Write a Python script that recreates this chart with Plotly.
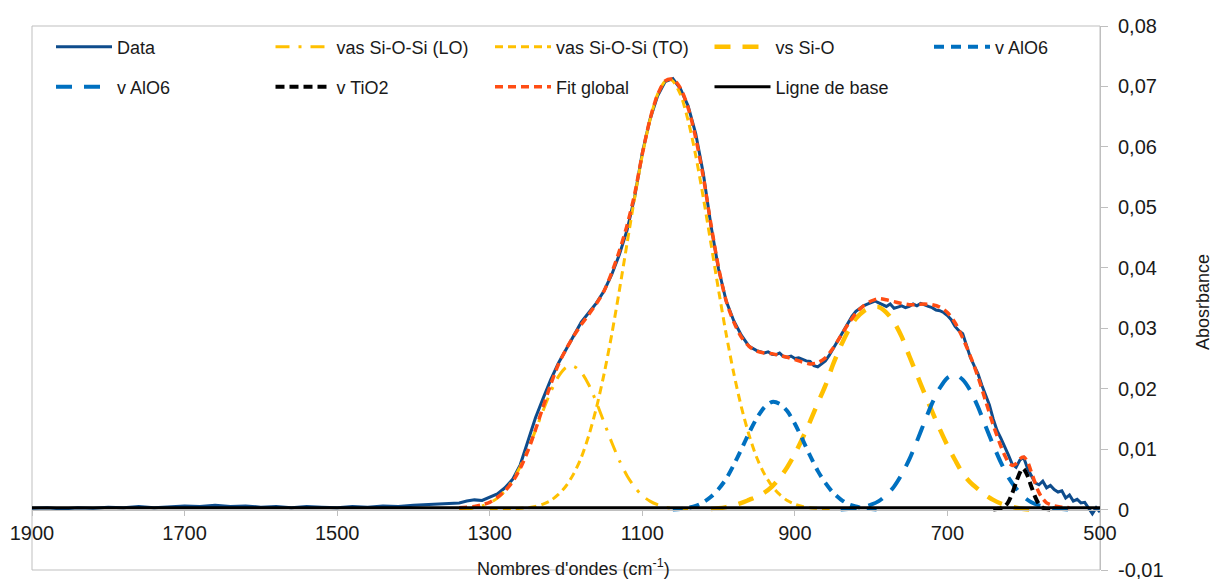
import plotly.graph_objects as go

# ---------------- data ----------------
DATA_WN = [1900, 1880, 1860, 1840, 1820, 1800, 1780, 1760, 1740, 1720, 1700, 1680, 1660, 1640,
           1620, 1600, 1580, 1560, 1540, 1520, 1500, 1480, 1460, 1440, 1420, 1400, 1380, 1360,
           1340, 1330, 1320, 1310, 1300, 1290, 1280, 1270, 1260, 1250, 1240, 1230, 1220, 1210,
           1200, 1190, 1180, 1170, 1160, 1150, 1140, 1130, 1120, 1110, 1100, 1090, 1080, 1070,
           1060, 1050, 1040, 1030, 1020, 1010, 1000, 990, 980, 970, 960, 950, 940, 935, 930,
           925, 920, 915, 910, 905, 900, 895, 890, 885, 880, 875, 870, 865, 860, 855, 850, 845,
           840, 835, 830, 825, 820, 815, 810, 805, 800, 795, 790, 785, 780, 775, 770, 765, 760,
           755, 750, 745, 740, 735, 730, 725, 720, 715, 710, 705, 700, 695, 690, 685, 680, 675,
           670, 665, 660, 655, 650, 645, 640, 635, 630, 625, 620, 615, 610, 605, 600, 595, 590,
           585, 580, 575, 570, 565, 560, 555, 550, 545, 540, 535, 530, 525, 520, 515, 510, 505, 500]
DATA_ABS = [0.0002, 0.0003, 0.0001, 0.0003, 0.0002, 0.0004, 0.0003, 0.0005, 0.0003, 0.0004, 0.0006, 0.0005, 0.0007, 0.0005,
            0.0006, 0.0004, 0.0005, 0.0003, 0.0005, 0.0004, 0.0003, 0.0005, 0.0004, 0.0006, 0.0005, 0.0007, 0.0008, 0.0009,
            0.0011, 0.0014, 0.0016, 0.0015, 0.0020, 0.0026, 0.0036, 0.0050, 0.0074, 0.0112, 0.0152, 0.0184, 0.0215, 0.0242,
            0.0265, 0.0288, 0.0310, 0.0326, 0.0342, 0.0362, 0.0389, 0.0422, 0.0462, 0.0517, 0.0590, 0.0645, 0.0684, 0.0708,
            0.0713, 0.0696, 0.0668, 0.0622, 0.0556, 0.0470, 0.0398, 0.0345, 0.0312, 0.0288, 0.0270, 0.0263, 0.0259, 0.0261, 0.0257,
            0.0256, 0.0259, 0.0253, 0.0252, 0.0254, 0.0250, 0.0251, 0.0248, 0.0246, 0.0245, 0.0238, 0.0236, 0.0241, 0.0246, 0.0255, 0.0266, 0.0277,
            0.0289, 0.0300, 0.0311, 0.0320, 0.0328, 0.0333, 0.0337, 0.0340, 0.0343, 0.0345, 0.0342, 0.0339, 0.0336, 0.0340, 0.0333, 0.0335, 0.0337,
            0.0334, 0.0336, 0.0340, 0.0337, 0.0341, 0.0338, 0.0336, 0.0334, 0.0330, 0.0329, 0.0326, 0.0321, 0.0314, 0.0303, 0.0296, 0.0291, 0.0270,
            0.0252, 0.0238, 0.0225, 0.0206, 0.0190, 0.0173, 0.0150, 0.0131, 0.0118, 0.0105, 0.0090, 0.0075, 0.0070, 0.0082, 0.0086, 0.0068, 0.0055,
            0.0044, 0.0041, 0.0047, 0.0036, 0.0040, 0.0033, 0.0029, 0.0031, 0.0019, 0.0024, 0.0014, 0.0017, 0.0011, 0.0012, 0.0003, -0.0007, 0.0003, -0.0004]

LO_WN = [1340, 1330, 1320, 1310, 1300, 1290, 1280, 1270, 1260, 1250, 1240, 1230, 1220, 1210, 1200, 1190,
         1180, 1170, 1160, 1150, 1140, 1130, 1120, 1110, 1100, 1090, 1080, 1070, 1060, 1050, 1040]
LO_ABS = [0.0001, 0.0001, 0.0003, 0.0006, 0.0011, 0.0019, 0.0031, 0.0048, 0.0071, 0.0099, 0.0131, 0.0164, 0.0195, 0.0220, 0.0235, 0.0237,
          0.0227, 0.0206, 0.0177, 0.0144, 0.0111, 0.0081, 0.0056, 0.0037, 0.0023, 0.0014, 0.0008, 0.0004, 0.0002, 0.0001, 0.0]

TO_WN = [1300, 1290, 1280, 1270, 1260, 1250, 1240, 1230, 1220, 1210, 1200, 1190, 1180, 1170, 1160, 1150, 1140, 1130,
         1120, 1110, 1100, 1090, 1080, 1070, 1065, 1060, 1050, 1040, 1030, 1020, 1010, 1000, 990, 980, 970, 960, 950,
         940, 930, 920, 910, 900, 890, 880, 870, 860, 850]
TO_ABS = [0.0, 0.0, 0.0001, 0.0001, 0.0002, 0.0003, 0.0005, 0.0009, 0.0015, 0.0025, 0.0039, 0.0059, 0.0086, 0.0123, 0.0169, 0.0225, 0.0290, 0.0363,
          0.0440, 0.0516, 0.0586, 0.0644, 0.0687, 0.0709, 0.0712, 0.0709, 0.0687, 0.0644, 0.0586, 0.0516, 0.0440, 0.0363, 0.0290, 0.0225, 0.0169, 0.0123, 0.0086,
          0.0059, 0.0039, 0.0025, 0.0015, 0.0009, 0.0005, 0.0003, 0.0002, 0.0001, 0.0]

SIO_WN = [1010, 1000, 990, 980, 970, 960, 950, 940, 930, 920, 910, 900, 890, 880, 870, 860, 850, 840, 830, 820, 810,
          800, 790, 780, 770, 760, 750, 740, 730, 720, 710, 700, 690, 680, 670, 660, 650, 640, 630, 620, 610, 600, 590]
SIO_ABS = [0.0001, 0.0002, 0.0004, 0.0007, 0.0011, 0.0016, 0.0021, 0.0028, 0.0038, 0.0052, 0.0070, 0.0092, 0.0118, 0.0146, 0.0176, 0.0205, 0.0240, 0.0270, 0.0296, 0.0316, 0.0328,
           0.0334, 0.0335, 0.0326, 0.0310, 0.0286, 0.0254, 0.0223, 0.0192, 0.0162, 0.0133, 0.0106, 0.0082, 0.0060, 0.0045, 0.0034, 0.0024, 0.0016, 0.0010, 0.0006, 0.0003, 0.0001, 0.0]

AL1_WN = [1060, 1050, 1040, 1030, 1020, 1010, 1000, 990, 980, 970, 960, 950, 940, 930, 920, 910, 900, 890, 880,
          870, 860, 850, 840, 830, 820, 810, 800, 790]
AL1_ABS = [0.0, 0.0001, 0.0003, 0.0006, 0.0012, 0.0021, 0.0034, 0.0051, 0.0074, 0.0100, 0.0127, 0.0151, 0.0169, 0.0178, 0.0175, 0.0163, 0.0142, 0.0116, 0.0089,
           0.0064, 0.0044, 0.0028, 0.0017, 0.0009, 0.0005, 0.0002, 0.0001, 0.0]

AL2_WN = [840, 830, 820, 810, 800, 790, 780, 770, 760, 750, 740, 730, 720, 710, 700, 690, 680, 670, 660, 650, 640,
          630, 620, 610, 600, 590, 580, 570, 560, 550, 540]
AL2_ABS = [0.0, 0.0001, 0.0002, 0.0004, 0.0008, 0.0014, 0.0024, 0.0038, 0.0058, 0.0083, 0.0113, 0.0145, 0.0176, 0.0201, 0.0218, 0.0223, 0.0215, 0.0197, 0.0170, 0.0138, 0.0107,
           0.0078, 0.0053, 0.0035, 0.0021, 0.0012, 0.0007, 0.0004, 0.0002, 0.0001, 0.0]

TI_WN = [640, 635, 630, 625, 620, 615, 610, 605, 602, 600, 595, 590, 585, 580, 575, 570, 565, 560]
TI_ABS = [0.0, 0.0001, 0.0002, 0.0005, 0.0013, 0.0027, 0.0045, 0.0061, 0.0068, 0.0067, 0.0056, 0.0038, 0.0021, 0.0009, 0.0003, 0.0001, 0.0, 0.0]

FIT_WN = [1340, 1330, 1320, 1310, 1300, 1290, 1280, 1270, 1260, 1250, 1240, 1230, 1220, 1210, 1200, 1190, 1180, 1170,
          1160, 1150, 1140, 1130, 1120, 1110, 1100, 1090, 1080, 1070, 1060, 1050, 1040, 1030, 1020, 1010, 1000, 990,
          980, 970, 960, 950, 940, 930, 920, 910, 900, 890, 880, 870, 860, 850, 840, 830, 820, 810, 800, 790, 780,
          770, 760, 750, 740, 730, 720, 710, 700, 690, 680, 670, 660, 650, 640, 630, 625, 620, 615, 610, 605, 600,
          595, 590, 585, 580, 575, 570, 560, 550, 540]
FIT_ABS = [0.0003, 0.0004, 0.0005, 0.0008, 0.0012, 0.0020, 0.0031, 0.0046, 0.0068, 0.0097, 0.0132, 0.0170, 0.0207, 0.0240, 0.0265, 0.0287, 0.0306, 0.0323,
           0.0341, 0.0362, 0.0392, 0.0428, 0.0470, 0.0522, 0.0588, 0.0645, 0.0686, 0.0709, 0.0712, 0.0697, 0.0665, 0.0615, 0.0550, 0.0472, 0.0400, 0.0345,
           0.0310, 0.0285, 0.0270, 0.0262, 0.0259, 0.0258, 0.0255, 0.0252, 0.0248, 0.0244, 0.0241, 0.0243, 0.0251, 0.0267, 0.0287, 0.0307, 0.0325, 0.0337, 0.0345, 0.0349, 0.0347,
           0.0344, 0.0341, 0.0339, 0.0339, 0.0340, 0.0339, 0.0335, 0.0326, 0.0309, 0.0284, 0.0254, 0.0220, 0.0180, 0.0140, 0.0105, 0.0090, 0.0078, 0.0073, 0.0076, 0.0084, 0.0087,
           0.0079, 0.0062, 0.0044, 0.0028, 0.0018, 0.0011, 0.0006, 0.0004, 0.0003]

BASE_WN = [1900, 500]
BASE_ABS = [0.0003, 0.0003]

X_TICKS = [1900, 1700, 1500, 1300, 1100, 900, 700, 500]
X_TICKTEXT = ["1900", "1700", "1500", "1300", "1100", "900", "700", "500"]
Y_TICKS = [-0.01, 0.0, 0.01, 0.02, 0.03, 0.04, 0.05, 0.06, 0.07, 0.08]
Y_TICKTEXT = ["-0,01", "0", "0,01", "0,02", "0,03", "0,04", "0,05", "0,06", "0,07", "0,08"]

# ---------------- styling ----------------
GOLD = "#FFC000"
BLUE = "#0070C0"
DARK = "#0E4C8C"
RED = "#FF4D14"
AXIS = "#BFBFBF"
TXT = "#1a1a1a"
FONT = "Liberation Sans, Arial, sans-serif"

# body margin is removed by the post script, so page pixels == figure pixels
W, H = 1215, 579
ML, MR, MT, MB = 32, 5, 26, 9
PW = W - ML - MR          # plot width in px
PH = H - MT - MB          # plot height in px
PL, PB = ML, H - MB       # plot left / bottom in page pixels
XDOM = 1068 / PW

def px(xpage):
    return (xpage - PL) / PW

def py(ypage):
    return (PB - ypage) / PH

fig = go.Figure()

def add(name, x, y, color, width, dash, legend, shape="spline"):
    fig.add_trace(go.Scatter(
        x=x, y=y, mode="lines", name=name, legend=legend,
        line=dict(color=color, width=width, dash=dash, shape=shape, smoothing=0.8),
        hoverinfo="skip"))

add("Data", DATA_WN, DATA_ABS, DARK, 3, "solid", "legend", shape="linear")
add("vas Si-O-Si (LO)", LO_WN, LO_ABS, GOLD, 3, "14px,9px,3px,9px", "legend")
add("vas Si-O-Si (TO)", TO_WN, TO_ABS, GOLD, 3, "8px,5px", "legend")
add("vs Si-O", SIO_WN, SIO_ABS, GOLD, 4.5, "16px,12px", "legend")
add("v AlO6", AL1_WN, AL1_ABS, BLUE, 4, "10px,7px", "legend")
add("v AlO6", AL2_WN, AL2_ABS, BLUE, 4, "16px,12px", "legend2")
add("v TiO2", TI_WN, TI_ABS, "#000000", 4, "9px,5px", "legend2")
add("Fit global", FIT_WN, FIT_ABS, RED, 3.5, "8px,5px", "legend2")
add("Ligne de base", BASE_WN, BASE_ABS, "#000000", 3, "solid", "legend2", shape="linear")

leg_common = dict(orientation="h", xanchor="left", yanchor="middle", bgcolor="rgba(0,0,0,0)",
                  font=dict(family=FONT, size=18, color=TXT), entrywidth=148.5, entrywidthmode="pixels",
                  itemwidth=56, traceorder="normal", borderwidth=0)

fig.update_layout(
    width=W, height=H,
    margin=dict(l=ML, r=MR, t=MT, b=MB, pad=0, autoexpand=False),
    paper_bgcolor="white", plot_bgcolor="white",
    font=dict(family=FONT, color=TXT),
    showlegend=True,
    legend=dict(x=px(51), y=py(47), **leg_common),
    legend2=dict(x=px(51), y=py(87), **leg_common),
    xaxis=dict(range=[1900, 500], domain=[0, XDOM], anchor="free", position=0.01 / 0.09,
               tickvals=X_TICKS, ticktext=X_TICKTEXT, ticks="outside", ticklen=5, tickcolor=AXIS,
               showline=True, linecolor=AXIS, linewidth=1, showgrid=False, zeroline=False,
               automargin=False, ticklabeloverflow="allow",
               tickfont=dict(family=FONT, size=20, color=TXT)),
    yaxis=dict(range=[-0.01, 0.08], domain=[0, 1], anchor="free", position=XDOM, side="right",
               tickvals=Y_TICKS, ticktext=Y_TICKTEXT, ticks="outside", ticklen=7, tickcolor=AXIS,
               showline=True, linecolor=AXIS, linewidth=1, showgrid=False, zeroline=False,
               ticklabelstandoff=6, automargin=False, ticklabeloverflow="allow",
               tickfont=dict(family=FONT, size=20, color=TXT)),
    shapes=[dict(type="rect", xref="x domain", yref="y domain", x0=0, x1=1, y0=0, y1=1,
                 line=dict(color=AXIS, width=1), layer="below")],
    annotations=[
        dict(text="Nombres d'ondes (cm<sup>-1</sup>)", xref="paper", yref="paper",
             x=px(573), y=py(567), xanchor="center", yanchor="middle", showarrow=False,
             font=dict(family=FONT, size=18, color=TXT)),
        dict(text="Abosrbance", xref="paper", yref="paper", textangle=-90,
             x=px(1203), y=py(302), xanchor="center", yanchor="middle", showarrow=False,
             font=dict(family=FONT, size=18, color=TXT)),
    ],
)

fig.write_html(
    "out.html",
    config=dict(displayModeBar=False),
    post_script=("document.documentElement.style.margin='0';document.body.style.margin='0';"
                 "document.documentElement.style.overflow='hidden';document.body.style.overflow='hidden';"),
)
